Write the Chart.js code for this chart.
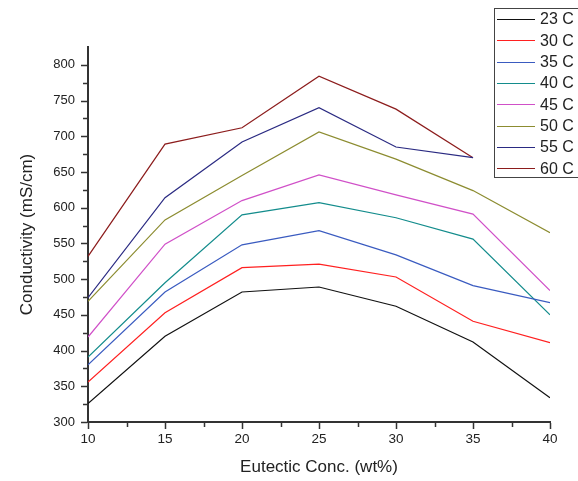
<!DOCTYPE html>
<html>
<head>
<meta charset="utf-8">
<script src="https://cdn.jsdelivr.net/npm/chart.js@4"></script>
<style>
  html, body { margin: 0; padding: 0; background: #fff; }
  #wrap { width: 578px; height: 481px; position: relative; }
</style>
</head>
<body>
<div id="wrap"><canvas id="chart" width="578" height="481"></canvas></div>
<script>
// Data
const concs = [10, 15, 20, 25, 30, 35, 40];
const labels = ["23 C", "30 C", "35 C", "40 C", "45 C", "50 C", "55 C", "60 C"];
const c23 = [326, 420, 482, 489, 462, 412, 334];
const c30 = [356, 453, 516, 521, 503, 441, 411];
const c35 = [380, 482, 548, 568, 534, 491, 467];
const c40 = [391, 495, 590, 607, 586, 556, 450];
const c45 = [419, 549, 610, 646, 618, 591, 484];
const c50 = [469, 583, 645, 706, 668, 624, 565];
const c55 = [474, 614, 692, 740, 685, 670];
const c60 = [532, 689, 712, 784, 738, 670];
const colors = ["#111111", "#ff2020", "#3a5bc0", "#138c8c", "#d050c8", "#8c8c30", "#2a2a82", "#8c1c1c"];

const series = [c23, c30, c35, c40, c45, c50, c55, c60];
const FONT = "'Liberation Sans', Arial, sans-serif";

// Origin style ticks: majors with labels, minors shorter
const axisTicks = {
  id: "axisTicks",
  afterDraw(chart) {
    const ctx = chart.ctx;
    const x = chart.scales.x, y = chart.scales.y;
    ctx.save();
    ctx.strokeStyle = "#333";
    ctx.lineWidth = 1.5;
    for (let v = 300; v <= 800; v += 25) {
      const py = Math.round(y.getPixelForValue(v)) + 0.5;
      const len = v % 50 === 0 ? 6 : 4;
      ctx.beginPath();
      ctx.moveTo(x.left - 1, py);
      ctx.lineTo(x.left - 1 - len, py);
      ctx.stroke();
    }
    for (let v = 10; v <= 40; v += 2.5) {
      const px = Math.round(x.getPixelForValue(v)) + 0.5;
      const len = v % 5 === 0 ? 6 : 4;
      ctx.beginPath();
      ctx.moveTo(px, y.bottom + 1);
      ctx.lineTo(px, y.bottom + 1 + len);
      ctx.stroke();
    }
    ctx.restore();
  }
};

// Legend box in the top right corner, like the original
const boxLegend = {
  id: "boxLegend",
  afterDraw(chart) {
    const ctx = chart.ctx;
    const bx = 494, by = 8, bw = 90, bh = 169;
    ctx.save();
    ctx.fillStyle = "#fff";
    ctx.fillRect(bx, by, bw, bh);
    ctx.strokeStyle = "#444";
    ctx.lineWidth = 1;
    ctx.strokeRect(bx + 0.5, by + 0.5, bw, bh);
    ctx.font = "16px " + FONT;
    ctx.textBaseline = "middle";
    ctx.fillStyle = "#222";
    chart.data.datasets.forEach((ds, i) => {
      const ly = by + 11 + i * 21.3;
      ctx.strokeStyle = ds.borderColor;
      ctx.lineWidth = 1.2;
      ctx.beginPath();
      ctx.moveTo(497, Math.round(ly) + 0.5);
      ctx.lineTo(535, Math.round(ly) + 0.5);
      ctx.stroke();
      ctx.fillText(ds.label, 540, ly + 1);
    });
    ctx.restore();
  }
};

new Chart(document.getElementById("chart"), {
  type: "line",
  data: {
    datasets: series.map((vals, i) => ({
      label: labels[i],
      data: vals.map((v, j) => ({ x: concs[j], y: v })),
      borderColor: colors[i],
      borderWidth: 1.2,
      pointRadius: 0,
      tension: 0,
      fill: false
    }))
  },
  options: {
    responsive: false,
    animation: false,
    events: [],
    layout: { padding: { left: 4, top: 47, right: 28, bottom: 3 } },
    plugins: {
      legend: { display: false },
      tooltip: { enabled: false }
    },
    scales: {
      x: {
        type: "linear",
        min: 10,
        max: 40,
        afterFit: (s) => { s.height = 56; },
        afterBuildTicks: (s) => { s.ticks = concs.map(v => ({ value: v })); },
        grid: { display: false, drawTicks: false },
        border: { display: true, color: "#333", width: 2 },
        ticks: {
          padding: 9,
          color: "#222",
          font: { family: FONT, size: 13.5 },
          callback: (v) => v
        },
        title: {
          display: true,
          text: "Eutectic Conc. (wt%)",
          color: "#222",
          font: { family: FONT, size: 17 },
          padding: { top: 0, bottom: 0 }
        }
      },
      y: {
        type: "linear",
        min: 300,
        max: 825,
        afterFit: (s) => { s.width = 84; },
        afterBuildTicks: (s) => {
          const t = [];
          for (let v = 300; v <= 800; v += 50) t.push({ value: v });
          s.ticks = t;
        },
        grid: { display: false, drawTicks: false },
        border: { display: true, color: "#333", width: 2 },
        ticks: {
          padding: 13,
          color: "#222",
          font: { family: FONT, size: 13 },
          callback: (v) => v
        },
        title: {
          display: true,
          text: "Conductivity (mS/cm)",
          color: "#222",
          font: { family: FONT, size: 17 },
          padding: { top: 13, bottom: 0 }
        }
      }
    }
  },
  plugins: [axisTicks, boxLegend]
});
</script>
</body>
</html>
